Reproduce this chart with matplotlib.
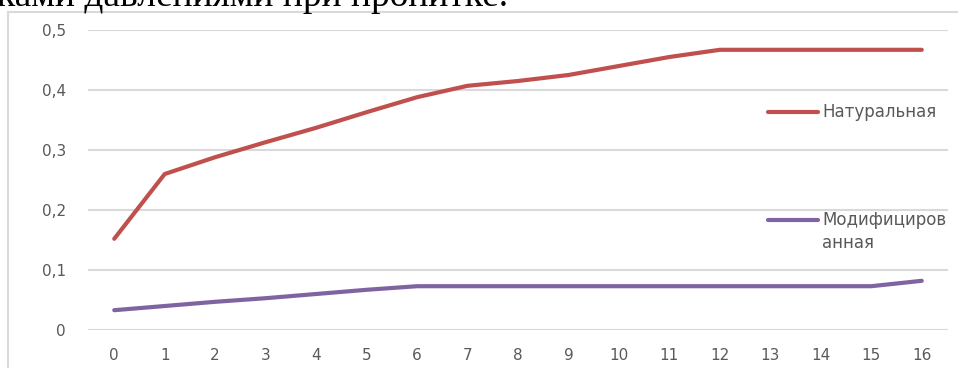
import matplotlib
matplotlib.use("Agg")
import matplotlib.pyplot as plt
from matplotlib.patches import Rectangle
from matplotlib.lines import Line2D
from matplotlib.ticker import FuncFormatter, MultipleLocator

# pressure steps and impregnation values for the two wood types
steps = list(range(17))
natural = [0.152, 0.26, 0.288, 0.313, 0.337, 0.363, 0.388, 0.407, 0.415,
           0.425, 0.44, 0.455, 0.467, 0.467, 0.467, 0.467, 0.467]
modified = [0.033, 0.04, 0.047, 0.053, 0.06, 0.067, 0.073, 0.073, 0.073,
            0.073, 0.073, 0.073, 0.073, 0.073, 0.073, 0.073, 0.082]
series_names = ["Натуральная", "Модифициров\nанная"]
colors = ["#C0504D", "#8064A2"]

W, H = 958, 368
fig = plt.figure(figsize=(W / 100, H / 100), dpi=100)
plt.rcParams["font.family"] = ["DejaVu Sans"]

# tail of the paragraph above the chart
fig.text(-3 / W, 1 - 6 / H, "ками давлениями при пропитке.", family="Liberation Serif",
         fontsize=27, color="black", va="baseline", ha="left")

# chart frame
fig.patches.append(Rectangle((8 / W, -0.1), 1.2, 1 - 12 / H + 0.1, transform=fig.transFigure,
                             fill=False, edgecolor="#d9d9d9", linewidth=1.5))

ax = fig.add_axes([88 / W, 38 / H, 860 / W, 300 / H])
ax.plot(steps, natural, color=colors[0], lw=3, solid_capstyle="round", clip_on=False)
ax.plot(steps, modified, color=colors[1], lw=3, solid_capstyle="round", clip_on=False)

ax.set_xlim(-0.52, 16.52)
ax.set_ylim(0, 0.5)
ax.xaxis.set_major_locator(MultipleLocator(1))
ax.yaxis.set_major_locator(MultipleLocator(0.1))
ax.yaxis.set_major_formatter(FuncFormatter(lambda v, p: "0" if abs(v) < 1e-9 else f"{v:.1f}".replace(".", ",")))
ax.grid(axis="y", color="#d9d9d9", lw=1.5)
ax.set_axisbelow(True)
for s in ax.spines.values():
    s.set_visible(False)
ax.tick_params(length=0, labelsize=11, colors="#595959")
ax.tick_params(axis="y", pad=16)
ax.tick_params(axis="x", pad=13)

# legend entries placed at the right over the plot area
legend_rows = [(112, series_names[0]), (220, series_names[1])]
for (yp, name), c in zip(legend_rows, colors):
    yf = 1 - yp / H
    fig.lines.append(Line2D([768 / W, 818 / W], [yf, yf], transform=fig.transFigure,
                            color=c, lw=3, solid_capstyle="round"))
    fig.text(822 / W, yf + 9 / H, name, fontsize=12, color="#595959", va="top", ha="left",
             linespacing=1.38)

fig.savefig("out.png", dpi=100)
